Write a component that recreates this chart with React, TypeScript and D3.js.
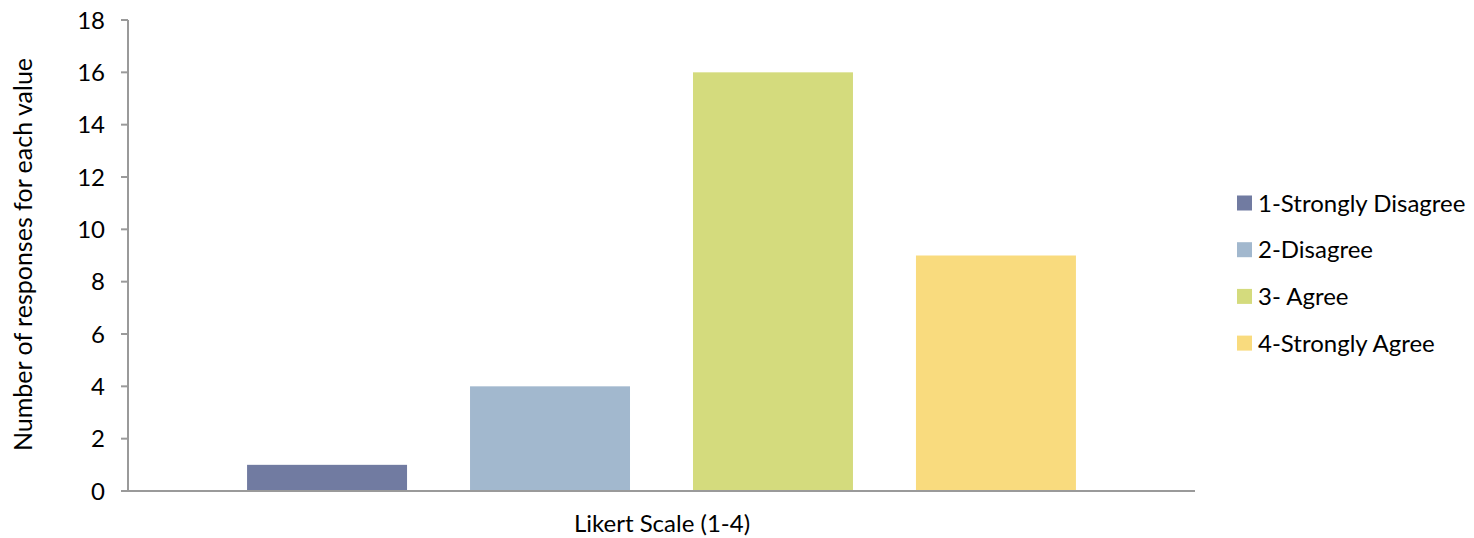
import React from "react";
import * as d3 from "d3";

const categories = ["1-Strongly Disagree", "2-Disagree", "3- Agree", "4-Strongly Agree"];
const values = [1, 4, 16, 9];
const colors = ["#717BA1", "#A2B8CE", "#D4DB7D", "#F9DB7E"];
const yTicks = [0, 2, 4, 6, 8, 10, 12, 14, 16, 18];

const W = 1474;
const H = 538;
const left = 128;
const right = 1195;
const top = 20;
const bottom = 491;
const FONT = "Lato, 'Open Sans', sans-serif";

export default function App() {
  const x = d3.scaleBand<string>().domain(categories).range([left, right]).paddingInner(0.2825).paddingOuter(0.534);
  const y = d3.scaleLinear().domain([0, 18]).range([bottom, top]);
  return (
    <svg width={W} height={H} style={{ position: "absolute", left: 0, top: 0 }} fontFamily={FONT}>
      <rect width={W} height={H} fill="#fff" />
      {categories.map((c, i) => (
        <rect key={c} x={x(c)} y={y(values[i])} width={x.bandwidth()} height={y(0) - y(values[i])} fill={colors[i]} />
      ))}
      <line x1={left} x2={left} y1={top} y2={bottom} stroke="#9a9a9a" strokeWidth={2} />
      <line x1={left - 7} x2={right} y1={bottom} y2={bottom} stroke="#9a9a9a" strokeWidth={2} />
      {yTicks.map((t) => (
        <g key={t}>
          <line x1={left - 7} x2={left} y1={y(t)} y2={y(t)} stroke="#9a9a9a" strokeWidth={2} />
          <text x={105} y={y(t)} dy="0.36em" textAnchor="end" fontSize={24} fill="#000">
            {t}
          </text>
        </g>
      ))}
      <text transform={`translate(32,254.5) rotate(-90)`} textAnchor="middle" fontSize={25} fill="#000">
        Number of responses for each value
      </text>
      <text x={662} y={532} textAnchor="middle" fontSize={24} fill="#000">
        Likert Scale (1-4)
      </text>
      {categories.map((c, i) => (
        <g key={"l" + c} transform={`translate(1237,${203 + i * 46.7})`}>
          <rect x={0} y={-7.5} width={15} height={15} fill={colors[i]} />
          <text x={21} y={0} dy="0.36em" fontSize={24} fill="#000">
            {c}
          </text>
        </g>
      ))}
    </svg>
  );
}
